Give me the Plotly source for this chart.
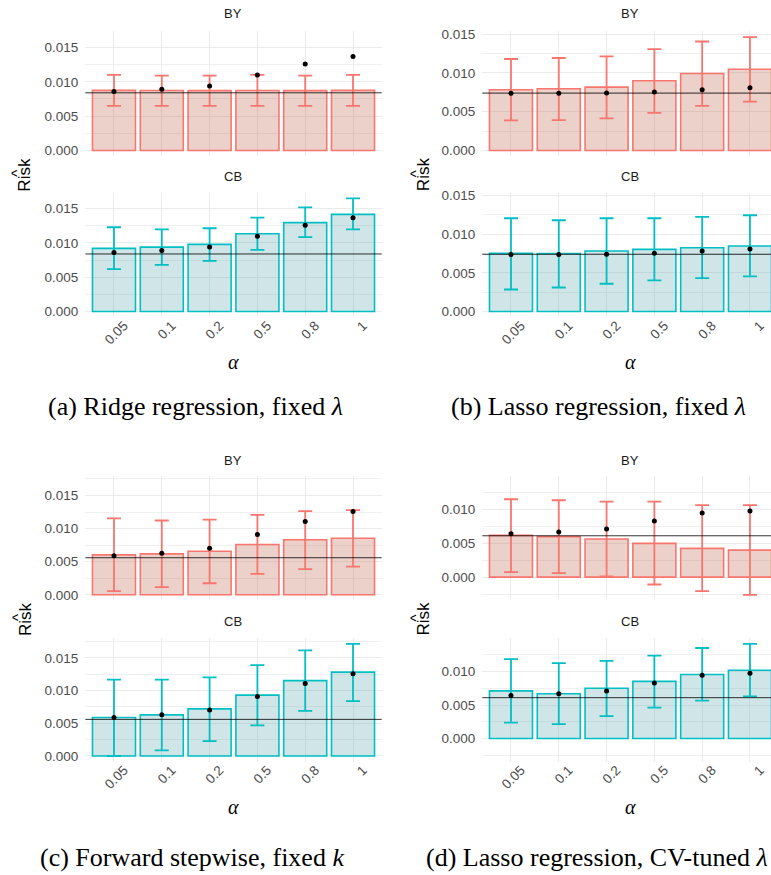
import plotly.graph_objects as go

W, H = 771, 875

alphas = ["0.05", "0.1", "0.2", "0.5", "0.8", "1"]
methods = ["BY", "CB"]

# (a) Ridge regression, fixed lambda
a_by_mean = [0.00875, 0.00873, 0.00872, 0.00874, 0.00872, 0.00875]
a_by_lo = [0.0065, 0.0065, 0.0065, 0.0065, 0.0065, 0.0065]
a_by_hi = [0.0110, 0.0109, 0.0109, 0.0110, 0.0109, 0.0110]
a_cb_mean = [0.00922, 0.0094, 0.0098, 0.01134, 0.01297, 0.01417]
a_cb_lo = [0.0062, 0.0068, 0.0074, 0.0090, 0.01085, 0.0120]
a_cb_hi = [0.0123, 0.0120, 0.01215, 0.0137, 0.0152, 0.0165]
a_true = [0.0086, 0.0089, 0.0094, 0.0110, 0.0126, 0.0137]
a_ref = 0.0084

# (b) Lasso regression, fixed lambda
b_by_mean = [0.00784, 0.00797, 0.00818, 0.0090, 0.00993, 0.01048]
b_by_lo = [0.00388, 0.00392, 0.00414, 0.00486, 0.00575, 0.00631]
b_by_hi = [0.0118, 0.01193, 0.01214, 0.01308, 0.01406, 0.01462]
b_cb_mean = [0.00752, 0.0075, 0.00782, 0.00804, 0.00825, 0.00847]
b_cb_lo = [0.00285, 0.00311, 0.00359, 0.00402, 0.00432, 0.00454]
b_cb_hi = [0.01206, 0.0118, 0.01206, 0.01206, 0.01223, 0.01245]
b_true = [0.00737, 0.00737, 0.00741, 0.00754, 0.00784, 0.0081]
b_ref = 0.0074

# (c) Forward stepwise, fixed k
c_by_mean = [0.00604, 0.00619, 0.00659, 0.0076, 0.00831, 0.00855]
c_by_lo = [0.00055, 0.00115, 0.00175, 0.00317, 0.00387, 0.00427]
c_by_hi = [0.01153, 0.01122, 0.01137, 0.01208, 0.01263, 0.01278]
c_cb_mean = [0.00589, 0.00629, 0.0072, 0.00931, 0.01153, 0.01283]
c_cb_lo = [0.0000, 0.00086, 0.00226, 0.00468, 0.0069, 0.0084]
c_cb_hi = [0.01168, 0.01168, 0.01203, 0.01389, 0.01615, 0.01716]
c_true = [0.00589, 0.00629, 0.00704, 0.00911, 0.01107, 0.01258]
c_ref = 0.0056

# (d) Lasso regression, CV-tuned lambda
d_by_mean = [0.00616, 0.00597, 0.00562, 0.00498, 0.00424, 0.00399]
d_by_lo = [0.00074, 0.00059, 0.0001, -0.00108, -0.00207, -0.0026]
d_by_hi = [0.01148, 0.01133, 0.01114, 0.01114, 0.0106, 0.0106]
d_cb_mean = [0.00711, 0.00668, 0.00751, 0.00853, 0.00956, 0.01019]
d_cb_lo = [0.00239, 0.00214, 0.00336, 0.00462, 0.00565, 0.00629]
d_cb_hi = [0.01185, 0.01127, 0.0116, 0.01238, 0.01351, 0.01414]
d_true = [0.00641, 0.00667, 0.00709, 0.00829, 0.00946, 0.00976]
d_ref = 0.0061

captions = [
    "(a) Ridge regression, fixed <i>λ</i>",
    "(b) Lasso regression, fixed <i>λ</i>",
    "(c) Forward stepwise, fixed <i>k</i>",
    "(d) Lasso regression, CV-tuned <i>λ</i>",
]

panels = [
    dict(by=(a_by_mean, a_by_lo, a_by_hi), cb=(a_cb_mean, a_cb_lo, a_cb_hi), true=a_true, ref=a_ref),
    dict(by=(b_by_mean, b_by_lo, b_by_hi), cb=(b_cb_mean, b_cb_lo, b_cb_hi), true=b_true, ref=b_ref),
    dict(by=(c_by_mean, c_by_lo, c_by_hi), cb=(c_cb_mean, c_cb_lo, c_cb_hi), true=c_true, ref=c_ref),
    dict(by=(d_by_mean, d_by_lo, d_by_hi), cb=(d_cb_mean, d_cb_lo, d_cb_hi), true=d_true, ref=d_ref),
]

line_colors = {"BY": "#F8766D", "CB": "#00BFC4"}
fill_colors = {"BY": "rgba(192,102,78,0.30)", "CB": "rgba(98,168,175,0.30)"}

# layout geometry (pixels)
row_px = [(26.7, 152.4), (189.3, 314.7), (474.3, 600.3), (638.3, 762.7)]
col_px = [(85.3, 381.7), (482.3, 771.0)]
col_xmax = [5.6, 5.44]
strip_y = [9, 173, 459, 621]
alpha_y = [360, 808]
caption_y = [405, 859]
caption_x = [195, 598, 192, 597]
risk_y = [171, 619]
risk_x = [25, 423.5]

SANS = "Liberation Sans, Arial, sans-serif"
SERIF = "Liberation Serif, Times New Roman, serif"

def px_x(v):
    return v / W

def px_y(v):
    return 1 - v / H

fig = go.Figure()
layout = dict(
    width=W, height=H, margin=dict(l=0, r=0, t=0, b=0),
    paper_bgcolor="white", plot_bgcolor="rgba(0,0,0,0)",
    showlegend=False, bargap=0.1,
)
annotations = []
shapes = []

for p, pan in enumerate(panels):
    prow, pcol = divmod(p, 2)
    allv = list(pan["by"][1]) + list(pan["by"][2]) + list(pan["cb"][1]) + list(pan["cb"][2]) + list(pan["true"]) + [0]
    ymin, ymax = min(allv), max(allv)
    span = ymax - ymin
    yrange = [ymin - 0.05 * span, ymax + 0.05 * span]
    cx = col_px[pcol][0] + 47.8 * 3.1
    for f, m in enumerate(methods):
        k = 2 * p + f + 1
        xname = "x" if k == 1 else f"x{k}"
        yname = "y" if k == 1 else f"y{k}"
        r = 2 * prow + f
        mean, lo, hi = pan["by"] if m == "BY" else pan["cb"]
        plus = [h - mu for h, mu in zip(hi, mean)]
        minus = [mu - l for l, mu in zip(lo, mean)]
        fig.add_trace(go.Bar(
            x=alphas, y=mean, width=0.9, xaxis=xname, yaxis=yname,
            marker=dict(color=fill_colors[m], line=dict(color=line_colors[m], width=1.6)),
            error_y=dict(type="data", symmetric=False, array=plus, arrayminus=minus,
                         color=line_colors[m], thickness=1.8, width=7),
            hoverinfo="skip",
        ))
        fig.add_trace(go.Scatter(
            x=alphas, y=pan["true"], mode="markers", xaxis=xname, yaxis=yname,
            marker=dict(color="black", size=5), hoverinfo="skip",
        ))
        shapes.append(dict(type="line", xref=f"{xname} domain", yref=yname,
                           x0=0, x1=1, y0=pan["ref"], y1=pan["ref"],
                           line=dict(color="rgba(0,0,0,0.8)", width=1), layer="above"))
        y0p, y1p = row_px[r]
        x0p, x1p = col_px[pcol]
        xa = dict(
            domain=[px_x(x0p), px_x(x1p)], anchor=yname,
            type="category", categoryorder="array", categoryarray=alphas,
            range=[-0.6, col_xmax[pcol]],
            showgrid=True, gridcolor="#EBEBEB", gridwidth=1.2,
            showline=False, zeroline=False, ticks="",
            showticklabels=(f == 1), tickangle=-45,
            ticklabelshift=10, ticklabelstandoff=-3,
            tickfont=dict(family=SANS, size=13.5, color="#4D4D4D"),
        )
        ya = dict(
            domain=[px_y(y1p), px_y(y0p)], anchor=xname,
            range=yrange, tick0=0, dtick=0.005, tickformat=".3f",
            showgrid=True, gridcolor="#EBEBEB", gridwidth=1.2,
            minor=dict(dtick=0.0025, tick0=0, showgrid=True, gridcolor="#F0F0F0", gridwidth=0.6),
            showline=False, zeroline=False, ticks="", ticklabelstandoff=6,
            tickfont=dict(family=SANS, size=13.5, color="#4D4D4D"),
        )
        layout["xaxis" if k == 1 else f"xaxis{k}"] = xa
        layout["yaxis" if k == 1 else f"yaxis{k}"] = ya
        annotations.append(dict(
            text=m, x=px_x(cx), y=px_y(strip_y[r]),
            xref="paper", yref="paper", showarrow=False, xanchor="center", yanchor="middle",
            font=dict(family=SANS, size=13, color="#1A1A1A"),
        ))
    annotations.append(dict(
        text="<i>α</i>", x=px_x(cx), y=px_y(alpha_y[prow]), xref="paper", yref="paper",
        showarrow=False, xanchor="center", yanchor="middle",
        font=dict(family=SERIF, size=20, color="black"),
    ))
    annotations.append(dict(
        text="Risk", x=px_x(risk_x[pcol]), y=px_y(risk_y[prow]), xref="paper", yref="paper",
        showarrow=False, xanchor="center", yanchor="middle", textangle=-90,
        font=dict(family=SANS, size=17, color="black"),
    ))
    annotations.append(dict(
        text="^", x=px_x(risk_x[pcol] - 8), y=px_y(risk_y[prow] - 1), xref="paper", yref="paper",
        showarrow=False, xanchor="center", yanchor="middle", textangle=-90,
        font=dict(family=SANS, size=15, color="black"),
    ))
    annotations.append(dict(
        text=captions[p], x=px_x(caption_x[p]), y=px_y(caption_y[prow]), xref="paper", yref="paper",
        showarrow=False, xanchor="center", yanchor="middle",
        font=dict(family=SERIF, size=26, color="black"),
    ))

layout["annotations"] = annotations
layout["shapes"] = shapes
fig.update_layout(**layout)
fig.write_html("out.html", config={"displayModeBar": False},
               post_script="document.body.style.margin='0';document.body.style.padding='0';")
